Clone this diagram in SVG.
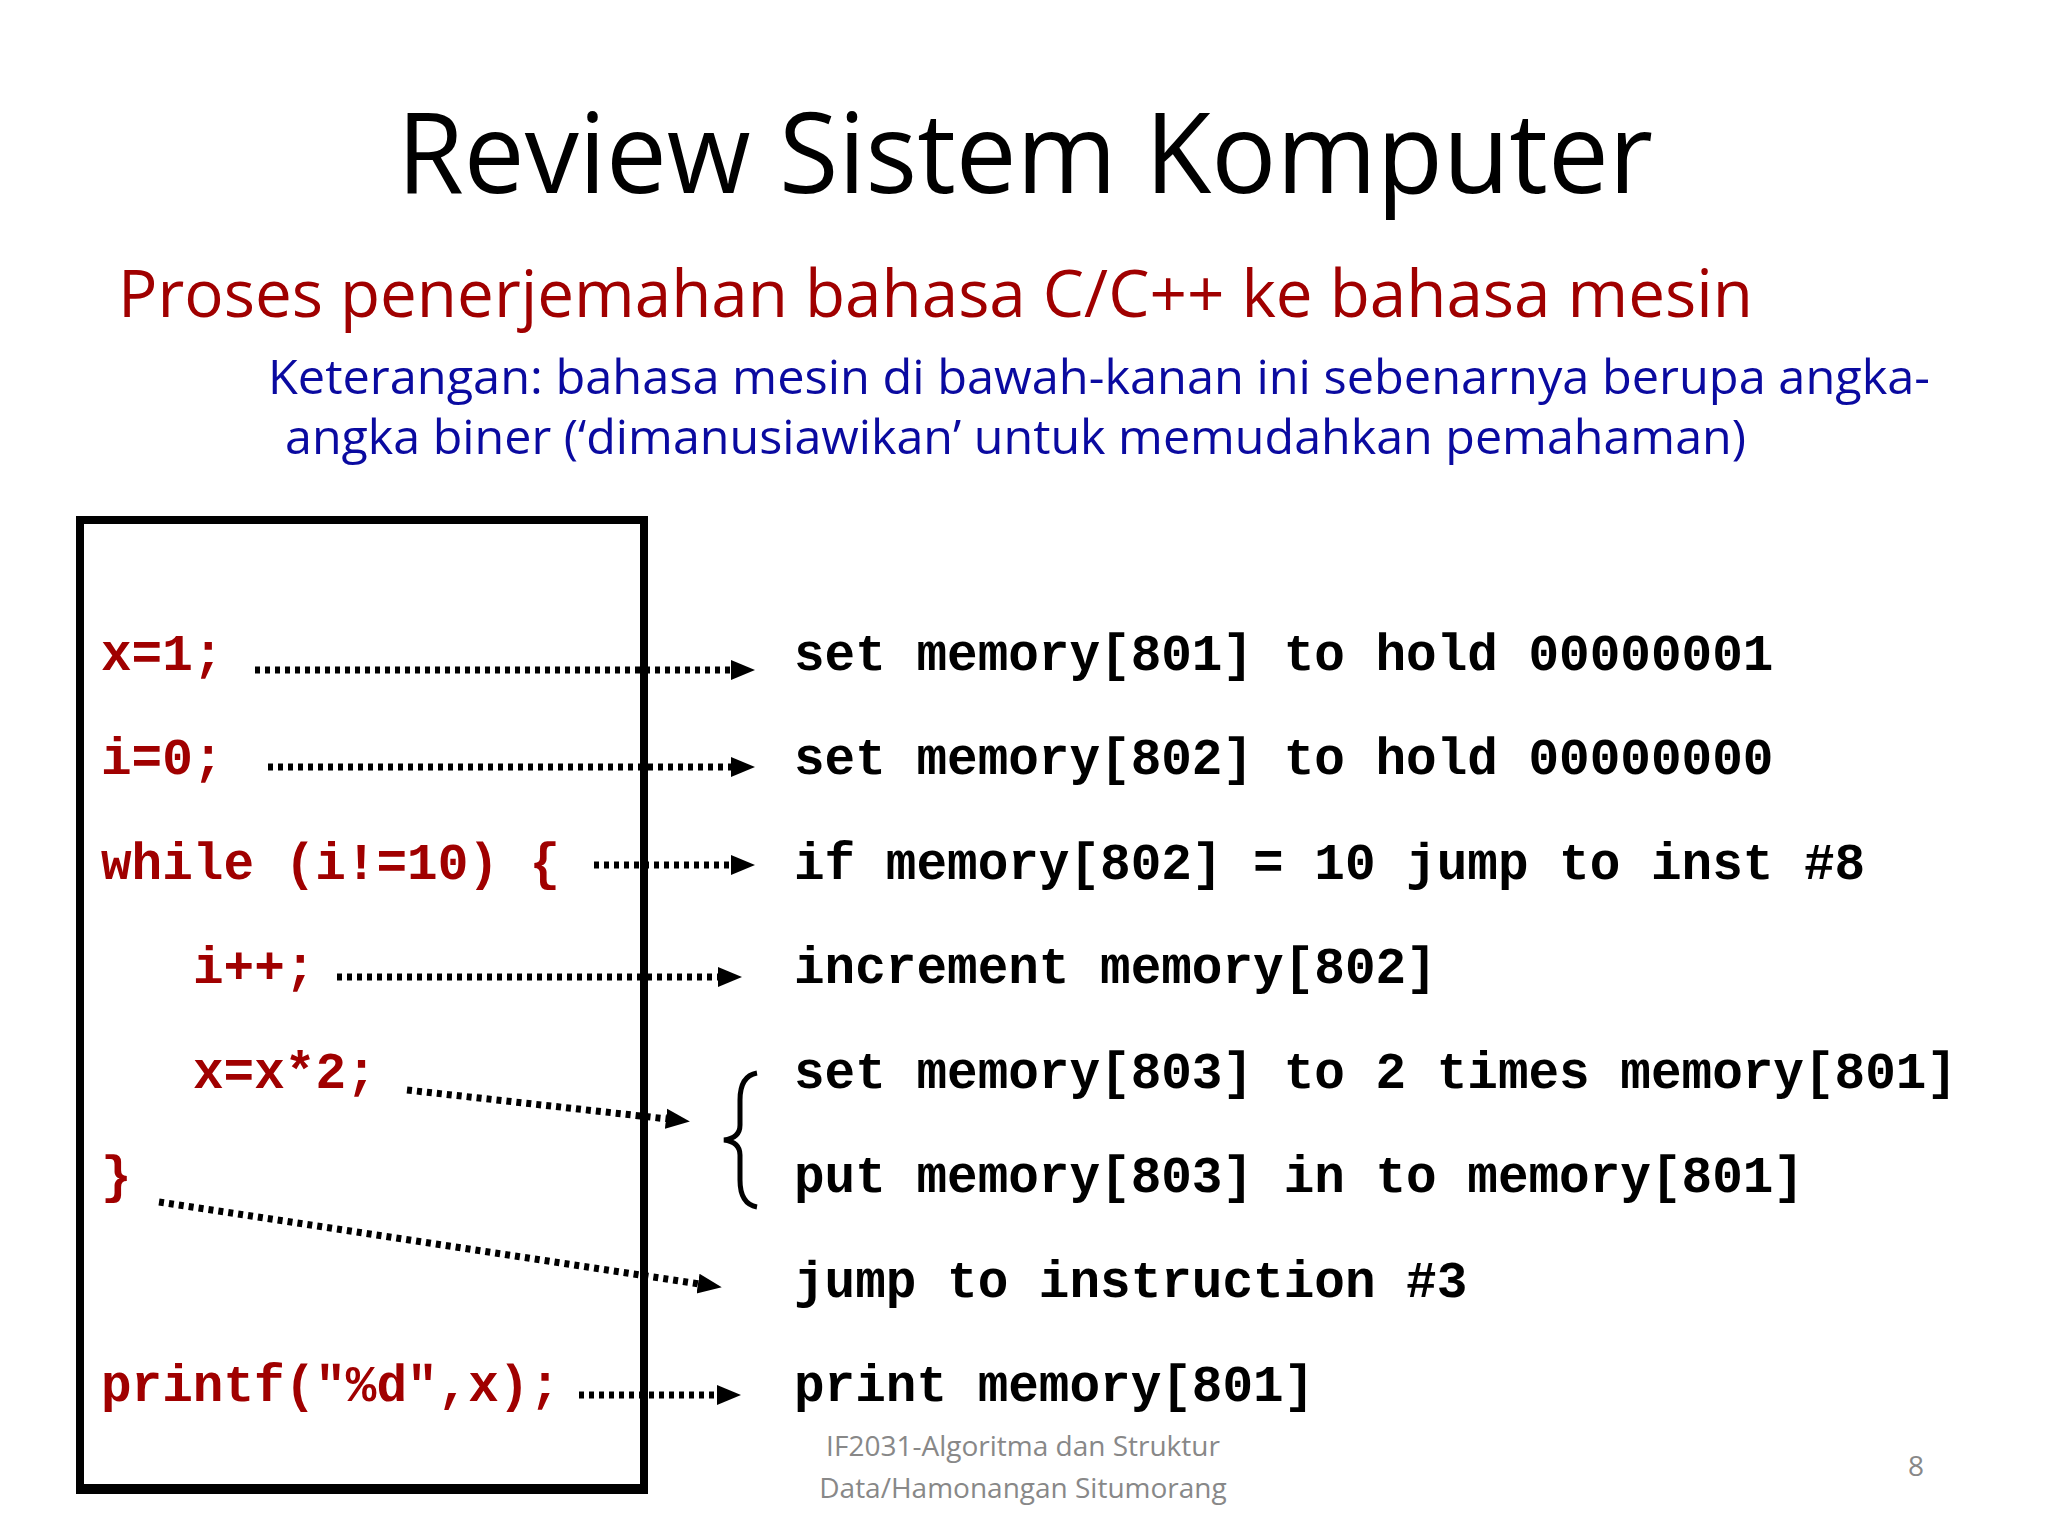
<svg xmlns="http://www.w3.org/2000/svg" width="2048" height="1536" viewBox="0 0 2048 1536">
<defs>
<marker id="ah" markerWidth="26" markerHeight="26" refX="2" refY="13" orient="auto" markerUnits="userSpaceOnUse"><path d="M0,3 L24,13 L0,23 Z" fill="#000"/></marker>
<style>
.code{font-family:"Liberation Mono",monospace;font-weight:bold;font-size:51px;fill:#a00000}
.asm{font-family:"Liberation Mono",monospace;font-weight:bold;font-size:51px;fill:#000}
.con{stroke:#000;stroke-width:7;stroke-dasharray:5 5;fill:none;marker-end:url(#ah)}
.ft{font-family:"Open Sans",sans-serif;font-size:28px;fill:#888}
</style>
</defs>
<rect width="2048" height="1536" fill="#fff"/>
<text x="1025" y="193" text-anchor="middle" font-family="Open Sans, sans-serif" font-size="112" textLength="1256" lengthAdjust="spacingAndGlyphs" fill="#000">Review Sistem Komputer</text>
<text x="118" y="317" font-family="Open Sans, sans-serif" font-size="66" fill="#a00000" textLength="1635" lengthAdjust="spacingAndGlyphs">Proses penerjemahan bahasa C/C++ ke bahasa mesin</text>
<text x="268" y="394" font-family="Open Sans, sans-serif" font-size="48" fill="#0a0aa0" textLength="1662" lengthAdjust="spacingAndGlyphs">Keterangan: bahasa mesin di bawah-kanan ini sebenarnya berupa angka-</text>
<text x="285" y="454" font-family="Open Sans, sans-serif" font-size="48" fill="#0a0aa0" textLength="1461" lengthAdjust="spacingAndGlyphs">angka biner (‘dimanusiawikan’ untuk memudahkan pemahaman)</text>
<g id="box"><rect x="80" y="520" width="564" height="970" fill="none" stroke="#000" stroke-width="8"/><rect x="76" y="1484" width="572" height="10" fill="#000"/></g>
<g id="src">
<text class="code" x="101" y="670">x=1;</text>
<text class="code" x="101" y="774">i=0;</text>
<text class="code" x="101" y="879">while (i!=10) {</text>
<text class="code" x="193" y="983">i++;</text>
<text class="code" x="193" y="1088">x=x*2;</text>
<text class="code" x="101" y="1192">}</text>
<text class="code" x="101" y="1401">printf("%d",x);</text>
</g>
<g id="asm">
<text class="asm" x="794" y="670">set memory[801] to hold 00000001</text>
<text class="asm" x="794" y="774">set memory[802] to hold 00000000</text>
<text class="asm" x="794" y="879">if memory[802] = 10 jump to inst #8</text>
<text class="asm" x="794" y="983">increment memory[802]</text>
<text class="asm" x="794" y="1088">set memory[803] to 2 times memory[801]</text>
<text class="asm" x="794" y="1192">put memory[803] in to memory[801]</text>
<text class="asm" x="794" y="1297">jump to instruction #3</text>
<text class="asm" x="794" y="1401">print memory[801]</text>
</g>
<path id="brace" d="M757,1073 Q740,1076 740,1100 L740,1125 Q740,1138 724,1140 Q740,1142 740,1155 L740,1180 Q740,1204 757,1207" fill="none" stroke="#000" stroke-width="5"/>
<g id="connectors">
<line class="con" x1="255" y1="670" x2="733" y2="670"/>
<line class="con" x1="268" y1="767" x2="733" y2="767"/>
<line class="con" x1="594" y1="865" x2="733" y2="865"/>
<line class="con" x1="337" y1="977" x2="720" y2="977"/>
<line class="con" x1="407" y1="1090" x2="668" y2="1119"/>
<line class="con" x1="159" y1="1202" x2="700" y2="1284"/>
<line class="con" x1="579" y1="1395" x2="719" y2="1395"/>
</g>
<text class="ft" x="1023" y="1456" text-anchor="middle">IF2031-Algoritma dan Struktur</text>
<text class="ft" x="1023" y="1498" text-anchor="middle">Data/Hamonangan Situmorang</text>
<text class="ft" x="1916" y="1476" text-anchor="middle">8</text>
</svg>
